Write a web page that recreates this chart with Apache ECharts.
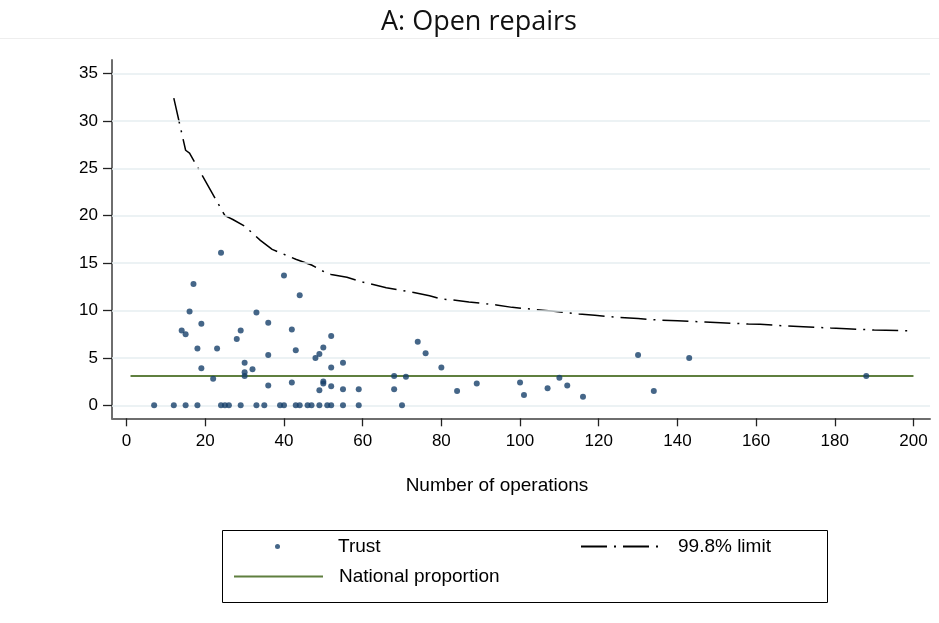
<!DOCTYPE html>
<html>
<head>
<meta charset="utf-8">
<script src="https://cdn.jsdelivr.net/npm/echarts@6/dist/echarts.min.js"></script>
<style>html,body{margin:0;padding:0;background:#fff;}#c{width:939px;height:623px;}</style>
</head>
<body>
<div id="c"></div>
<script>
// Trust points: number of operations and percentage
const trustOps = [14, 15, 16, 17, 18, 19, 19, 22, 23, 24, 28, 29, 30, 30, 30, 32, 33, 36, 36, 36, 40, 42, 42, 43, 44, 48, 49, 49, 50, 50, 50, 52, 52, 52, 55, 55, 59, 68, 68, 71, 74, 76, 80, 84, 89, 100, 101, 107, 110, 112, 116, 130, 134, 143, 188,
  7, 12, 15, 18, 24, 25, 26, 29, 33, 35, 39, 40, 43, 44, 46, 47, 49, 51, 52, 55, 59, 70];
const trustPct = [7.9, 7.5, 9.9, 12.8, 6.0, 8.6, 3.9, 2.8, 6.0, 16.1, 7.0, 7.9, 4.5, 3.5, 3.1, 3.8, 9.8, 8.7, 5.3, 2.1, 13.7, 8.0, 2.4, 5.8, 11.6, 5.0, 5.4, 1.6, 6.1, 2.5, 2.3, 7.3, 4.0, 2.0, 4.5, 1.7, 1.7, 3.1, 1.7, 3.0, 6.7, 5.5, 4.0, 1.5, 2.3, 2.4, 1.1, 1.8, 2.9, 2.1, 0.9, 5.3, 1.5, 5.0, 3.1,
  0, 0, 0, 0, 0, 0, 0, 0, 0, 0, 0, 0, 0, 0, 0, 0, 0, 0, 0, 0, 0, 0];
// 99.8% control limit
const limitOps = [12, 15, 16, 25, 27, 30, 34, 37, 43, 47, 51, 52, 56, 60, 66, 73, 77, 80, 83, 87, 94, 98, 104, 108, 115, 119, 125, 130, 135, 140, 147, 151, 158, 161, 168, 172, 179, 183, 190, 193, 200];
const limitPct = [32.4, 26.9, 26.6, 20.0, 19.6, 18.9, 17.4, 16.45, 15.4, 14.8, 13.9, 13.8, 13.5, 13.0, 12.4, 11.9, 11.55, 11.2, 11.1, 10.9, 10.58, 10.33, 10.1, 9.95, 9.63, 9.49, 9.28, 9.15, 9.0, 8.92, 8.79, 8.71, 8.58, 8.54, 8.36, 8.29, 8.15, 8.08, 7.94, 7.91, 7.84];
// National proportion
const nationalOps = [1, 200];
const nationalPct = [3.1, 3.1];
// Tick labels
const xTicks = [0, 20, 40, 60, 80, 100, 120, 140, 160, 180, 200];
const yTicks = [0, 5, 10, 15, 20, 25, 30, 35];

const zip = (a, b) => a.map((v, i) => [v, b[i]]);
const font = 'Liberation Sans, Arial, sans-serif';

const chart = echarts.init(document.getElementById('c'), null, {renderer: 'canvas'});
chart.setOption({
  animation: false,
  backgroundColor: '#fff',
  title: {
    text: 'A: Open repairs',
    left: 376, top: 4,
    textStyle: {fontFamily: 'Open Sans', fontSize: 27, fontWeight: 'normal', color: '#111'}
  },
  grid: {left: 112, right: 9, top: 60, height: 358.3, containLabel: false},
  xAxis: {
    type: 'value', min: -3.71, max: 204.2,
    name: 'Number of operations', nameLocation: 'middle', nameGap: 58,
    nameTextStyle: {fontFamily: font, fontSize: 19, color: '#000', padding: [0, 48, 0, 0]},
    axisLine: {show: true, onZero: false, lineStyle: {color: '#6e6e6e', width: 2}},
    axisTick: {show: true, length: 8, customValues: xTicks, lineStyle: {color: '#222', width: 1.3}},
    axisLabel: {customValues: xTicks, margin: 15, fontFamily: font, fontSize: 17, color: '#000'},
    splitLine: {show: false}
  },
  yAxis: {
    type: 'value', min: -1.37, max: 36.42,
    axisLine: {show: true, onZero: false, lineStyle: {color: '#6e6e6e', width: 2}},
    axisTick: {show: true, length: 9, customValues: yTicks, lineStyle: {color: '#222', width: 1.3}},
    axisLabel: {customValues: yTicks, margin: 14, fontFamily: font, fontSize: 17, color: '#000'},
    splitLine: {show: false}
  },
  legend: [
    {data: ['Trust'], left: 275, top: 537, padding: 0, itemWidth: 5, itemHeight: 5,
      textStyle: {fontFamily: font, fontSize: 19, color: '#000', padding: [0, 0, 0, 53]}},
    {data: ['National proportion'], left: 233, top: 567, padding: 0, itemWidth: 89, itemHeight: 16,
      itemStyle: {opacity: 0},
      textStyle: {fontFamily: font, fontSize: 19, color: '#000', padding: [0, 0, 0, 11]}},
    {data: ['99.8% limit'], left: 580, top: 537, padding: 0, itemWidth: 80, itemHeight: 16,
      itemStyle: {opacity: 0},
      textStyle: {fontFamily: font, fontSize: 19, color: '#000', padding: [0, 0, 0, 12]}}
  ],
  graphic: [
    {type: 'line', shape: {x1: 0, y1: 38.5, x2: 939, y2: 38.5}, style: {stroke: '#eeeeee', lineWidth: 1}, silent: true},
    {type: 'rect', shape: {x: 222.5, y: 530.5, width: 605, height: 72}, style: {fill: 'none', stroke: '#000', lineWidth: 1}, silent: true}
  ],
  series: [
    {
      name: 'grid', type: 'line', data: [], z: 1, silent: true,
      markLine: {silent: true, symbol: 'none', label: {show: false},
        lineStyle: {color: '#e6eef1', width: 1.5, type: 'solid'},
        data: yTicks.map(v => ({yAxis: v}))}
    },
    {
      name: 'National proportion', type: 'line', data: zip(nationalOps, nationalPct), z: 3,
      symbol: 'none', lineStyle: {color: '#5f7f3f', width: 2}, itemStyle: {color: '#5f7f3f'}
    },
    {
      name: '99.8% limit', type: 'line', data: zip(limitOps, limitPct), z: 4,
      symbol: 'none', lineStyle: {color: '#000', width: 1.5, type: [26, 7, 2, 7]}, itemStyle: {color: '#000'}
    },
    {
      name: 'Trust', type: 'scatter', data: zip(trustOps, trustPct), z: 5,
      symbol: 'circle', symbolSize: 6, itemStyle: {color: '#17406a'}
    }
  ]
});
</script>
</body>
</html>
